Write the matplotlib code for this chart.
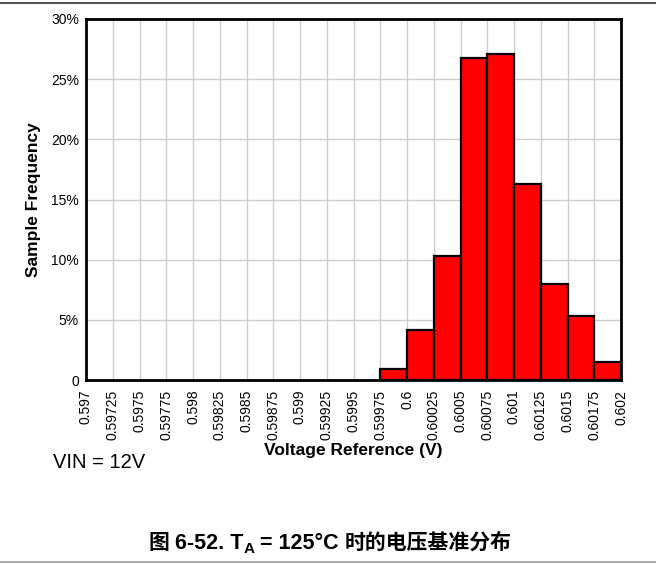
import matplotlib
matplotlib.use("Agg")
import matplotlib.pyplot as plt
import numpy as np
from matplotlib.lines import Line2D

plt.rcParams['font.family'] = ['Liberation Sans', 'Noto Sans CJK SC', 'DejaVu Sans']

bin_edges = [0.597, 0.59725, 0.5975, 0.59775, 0.598, 0.59825, 0.5985, 0.59875, 0.599,
             0.59925, 0.5995, 0.59975, 0.6, 0.60025, 0.6005, 0.60075, 0.601, 0.60125,
             0.6015, 0.60175, 0.602]
tick_labels = ["0.597", "0.59725", "0.5975", "0.59775", "0.598", "0.59825", "0.5985",
               "0.59875", "0.599", "0.59925", "0.5995", "0.59975", "0.6", "0.60025",
               "0.6005", "0.60075", "0.601", "0.60125", "0.6015", "0.60175", "0.602"]
freq = [0, 0, 0, 0, 0, 0, 0, 0, 0, 0, 0, 0.89, 4.15, 10.3, 26.8, 27.05, 16.25, 8.0, 5.35, 1.5]
y_ticks = [0, 5, 10, 15, 20, 25, 30]
y_labels = ["0", "5%", "10%", "15%", "20%", "25%", "30%"]

W, H = 656, 564
fig = plt.figure(figsize=(W/100, H/100), dpi=100)
ax = fig.add_axes([86/W, 1-380/H, (621-86)/W, (380-19)/H])

edges = np.array(bin_edges)
left = edges[:-1]
width = np.diff(edges)
vals = np.array(freq)
mask = vals > 0
ax.bar(left[mask], vals[mask], width=width[mask], align='edge', color='#ff0000',
       edgecolor='black', linewidth=1.6, zorder=3)

ax.set_xlim(edges[0], edges[-1])
ax.set_ylim(0, 30)
ax.set_xticks(edges)
ax.set_xticklabels(tick_labels, rotation=90, fontsize=10)
ax.set_yticks(y_ticks)
ax.set_yticklabels(y_labels, fontsize=10)
ax.tick_params(axis='x', length=0, pad=7)
ax.tick_params(axis='y', length=0, pad=5)
ax.grid(True, color='#cccccc', linewidth=1, zorder=0)
ax.set_axisbelow(True)
for s in ax.spines.values():
    s.set_linewidth(2)
    s.set_color('black')

ax.set_xlabel("Voltage Reference (V)", fontsize=12.5, fontweight='bold', labelpad=2)
ax.set_ylabel("Sample Frequency", fontsize=12.5, fontweight='bold', labelpad=7)

fig.text(53/W, 1-463/H, "VIN = 12V", fontsize=14.5, va='center', ha='left')

# caption composed of pieces (CJK, latin, subscript)
cap_y = 1 - 549/H
fam = ['Liberation Sans', 'Noto Sans CJK SC']
parts = [("图", 15, 0), (" 6-52. T", 15.5, 0), ("A", 11, -4),
         (" = 125°C ", 15.5, 0), ("时的电压基准分布", 15, 0)]
fig.canvas.draw()
renderer = fig.canvas.get_renderer()
texts = []
for s, fs, dy in parts:
    t = fig.text(0, cap_y, s, fontsize=fs, fontweight='bold', family=fam,
                 ha='left', va='baseline')
    texts.append((t, dy))
widths = [t.get_window_extent(renderer).width for t, _ in texts]
total = sum(widths)
x = 330 - total / 2
for (t, dy), w in zip(texts, widths):
    t.set_position((x / W, cap_y + dy / H))
    x += w

fig.add_artist(Line2D([0, 1], [1-2.5/H, 1-2.5/H], color='#555555', linewidth=1.5,
                      transform=fig.transFigure))
fig.add_artist(Line2D([0, 1], [1-562/H, 1-562/H], color='#999999', linewidth=1.2,
                      transform=fig.transFigure))

fig.savefig("out.png", dpi=100)
